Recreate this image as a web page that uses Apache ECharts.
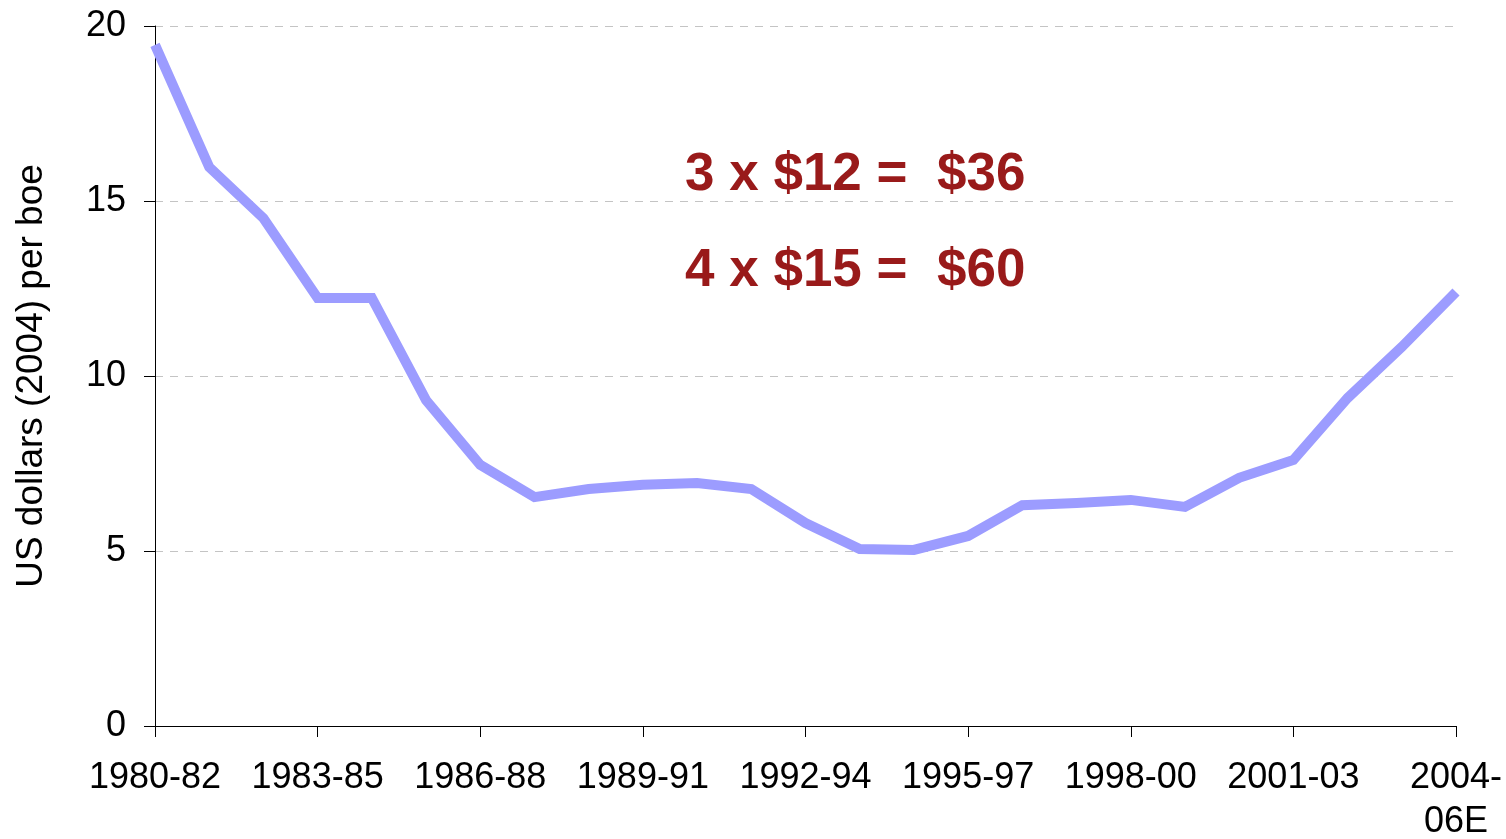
<!DOCTYPE html>
<html>
<head>
<meta charset="utf-8">
<script src="https://cdn.jsdelivr.net/npm/echarts@6/dist/echarts.min.js"></script>
<style>
  html, body { margin: 0; padding: 0; background: #fff; }
  #chart { width: 1506px; height: 839px; }
</style>
</head>
<body>
<div id="chart"></div>
<script>
  const categories = [
    '1980-82', '1981-83', '1982-84', '1983-85', '1984-86', '1985-87', '1986-88',
    '1987-89', '1988-90', '1989-91', '1990-92', '1991-93', '1992-94', '1993-95',
    '1994-96', '1995-97', '1996-98', '1997-99', '1998-00', '1999-01', '2000-02',
    '2001-03', '2002-04', '2003-05', '2004-06E'
  ]
  const costValues = [
    19.46, 15.97, 14.51, 12.23, 12.23, 9.31, 7.46, 6.54, 6.77, 6.89, 6.94, 6.77,
    5.8, 5.06, 5.03, 5.43, 6.31, 6.37, 6.46, 6.26, 7.09, 7.6, 9.37, 10.83, 12.4
  ]
  const yTicks = { min: 0, max: 20, interval: 5 }
  const notes = ['3 x $12 =  $36', '4 x $15 =  $60']

  const fontFamily = '"Liberation Sans", Arial, sans-serif'
  const chart = echarts.init(document.getElementById('chart'))

  chart.setOption({
    animation: false,
    grid: {
      left: 155,
      right: 50,
      top: 26,
      bottom: 113,
      containLabel: false,
      outerBoundsMode: 'none'
    },
    xAxis: {
      type: 'category',
      data: categories,
      boundaryGap: false,
      axisLine: { lineStyle: { color: '#000', width: 1 } },
      axisTick: { interval: 2, length: 11, lineStyle: { color: '#000' } },
      axisLabel: {
        interval: 2,
        margin: 30,
        color: '#000',
        fontSize: 36,
        lineHeight: 44,
        fontFamily,
        formatter: (v) => (v === '2004-06E' ? '2004-\n06E' : v)
      },
      splitLine: { show: false }
    },
    yAxis: {
      type: 'value',
      min: yTicks.min,
      max: yTicks.max,
      interval: yTicks.interval,
      name: 'US dollars (2004) per boe',
      nameLocation: 'middle',
      nameGap: 105,
      nameTextStyle: { color: '#000', fontSize: 37, fontFamily },
      axisLine: { show: true, lineStyle: { color: '#000', width: 1 } },
      axisTick: { show: true, length: 11, lineStyle: { color: '#000' } },
      axisLabel: { margin: 29, color: '#000', fontSize: 36, fontFamily },
      splitLine: {
        show: true,
        showMinLine: false,
        lineStyle: { color: '#c4c4c4', type: [8, 7], width: 1 }
      }
    },
    graphic: notes.map((t, i) => ({
      type: 'text',
      left: 685,
      top: 149 + i * 96,
      style: {
        text: t,
        fill: '#991a1a',
        font: 'bold 53px ' + fontFamily
      }
    })),
    series: [
      {
        type: 'line',
        data: costValues,
        symbol: 'none',
        lineStyle: { color: '#9c9cff', width: 10, join: 'miter' }
      }
    ]
  })
</script>
</body>
</html>
